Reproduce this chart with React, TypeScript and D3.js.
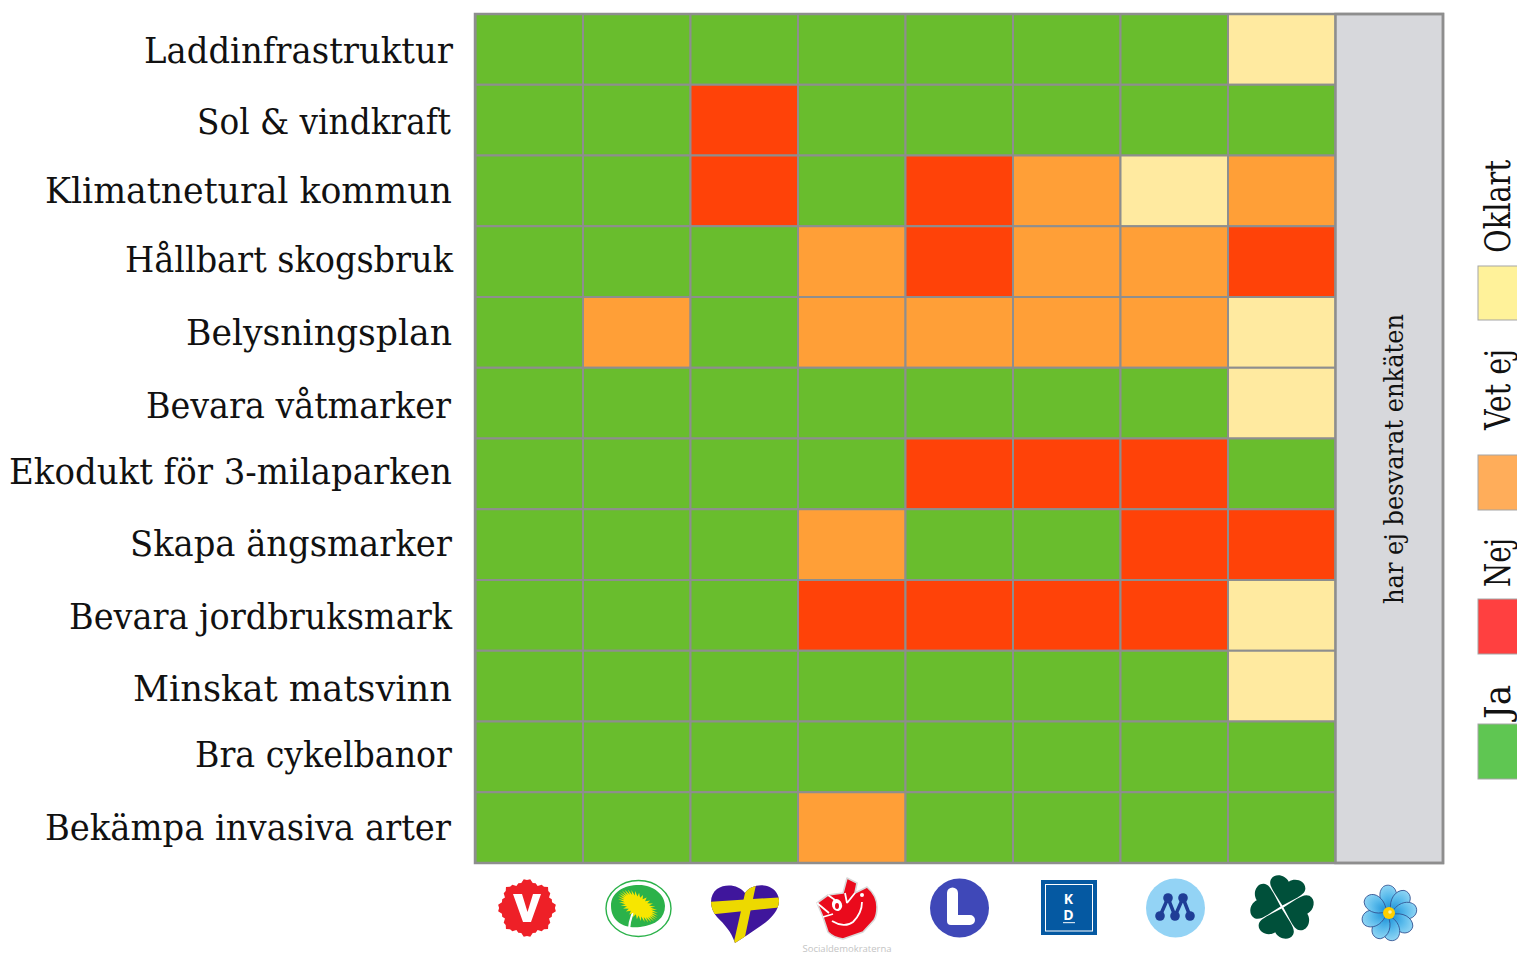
import React from "react";
import * as d3 from "d3";

const questions = ["Laddinfrastruktur","Sol & vindkraft","Klimatnetural kommun","Hållbart skogsbruk","Belysningsplan","Bevara våtmarker","Ekodukt för 3-milaparken","Skapa ängsmarker","Bevara jordbruksmark","Minskat matsvinn","Bra cykelbanor","Bekämpa invasiva arter"];
const parties = ["V","MP","KrF","S","L","KD","M","C","SD"];
// J = Ja, N = Nej, V = Vet ej, O = Oklart
const answers = [
  "JJJJJJJO","JJNJJJJJ","JJNJNVOV","JJJVNVVN","JVJVVVVO","JJJJJJJO",
  "JJJJNNNJ","JJJVJJNN","JJJNNNNO","JJJJJJJO","JJJJJJJJ","JJJVJJJJ",
];
const noAnswerLabel = "har ej besvarat enkäten";
const legendKeys = ["Oklart","Vet ej","Nej","Ja"];

const cellColor: Record<string,string> = { J:"#69bd2d", N:"#ff4208", V:"#ff9f37", O:"#ffeaa0" };
const legendColor: Record<string,string> = { Oklart:"#fff29a", "Vet ej":"#ffad5a", Nej:"#ff4040", Ja:"#5fc652" };
const labelBaselines = [63,134,203,272,345,418,484,556,629,701,767,840];
const labelStarts = [144,197,45,125,186,146,9,130,69,133,195,45];
const labelEnds = [453,451,452,453,452,451,452,452,452,452,452,451];
const legendLayout: Record<string,{top:number,bottom:number,textStart:number,textEnd:number}> = {
  Oklart:{top:266,bottom:320,textStart:253,textEnd:160},
  "Vet ej":{top:455,bottom:510,textStart:430,textEnd:349},
  Nej:{top:599,bottom:654,textStart:587,textEnd:538},
  Ja:{top:724,bottom:779,textStart:719,textEnd:685},
};
const SERIF = "'DejaVu Serif Condensed','DejaVu Serif',serif";

const x = d3.scaleBand<string>().domain(parties).range([475.5,1443]);
const y = d3.scaleBand<string>().domain(questions).range([14,863]);

const scallop = (cx:number,cy:number,r:number,amp:number,n:number) => {
  const pts:[number,number][] = [];
  for(let i=0;i<n;i++){
    const a = i/n*Math.PI*2;
    const big = Math.cos(a*8)*amp*0.7;
    const rr = r + big + (i%2?amp*0.35:-amp*0.35);
    pts.push([cx+Math.cos(a)*rr, cy+Math.sin(a)*rr]);
  }
  return d3.line().curve(d3.curveLinearClosed)(pts)!;
};
const dandelion = () => {
  const pts:[number,number][] = [];
  const n=64;
  for(let i=0;i<n;i++){
    const a=i/n*Math.PI*2;
    const k=i%2?1:0.68;
    pts.push([Math.cos(a)*23*k, Math.sin(a)*12*k]);
  }
  return d3.line().curve(d3.curveLinearClosed)(pts)!;
};
const HEART_LEAF = "M0,0 L-13,-12 C-18,-17 -22,-21 -21,-26 C-19,-35 -6,-36 0,-29 C6,-36 19,-35 21,-26 C22,-21 18,-17 13,-12 Z";
const PETAL = "M0,-3 C-9,-10 -10,-22 -3,-27 C3,-30 10,-25 9,-17 C8,-10 4,-6 0,-3 Z";

function Logos(){
  return <g>
    {/* V */}
    <path d={scallop(527,908,27,2.6,56)} fill="#ee2027"/>
    <path d="M513,894 L522,894 L527.5,912 L533,894 L541,894 L531,922 L523,922 Z" fill="#fff"/>
    {/* MP */}
    <ellipse cx={638.5} cy={908.5} rx={32.5} ry={28} fill="#fff" stroke="#2bb24a" strokeWidth={1.4}/>
    <path d="M611,906 C611,892 624,885 639,885 C654,885 665,895 665,906 C665,918 656,925 640,927 C625,929 611,922 611,906Z" fill="#2bb24a"/>
    <path d="M629,929 C630,918 632,912 637,908" fill="none" stroke="#fff" strokeWidth={2.2}/>
    <g transform="translate(638,906) rotate(35)"><path d={dandelion()} fill="#f7e600"/></g>
    {/* KrF */}
    <defs>
      <clipPath id="heartClip"><path d="M745,893 C751,884 768,882 776,892 C784,903 775,916 762,925 C752,932 743,938 735,943 C731,931 724,924 717,917 C709,908 709,895 717,889 C726,883 739,885 745,893Z"/></clipPath>
      <radialGradient id="sdGrad" cx="0.5" cy="0.95" r="0.9"><stop offset="0" stopColor="#1d92d8"/><stop offset="0.6" stopColor="#5cbcec"/><stop offset="1" stopColor="#8ad2f3"/></radialGradient>
    </defs>
    <g clipPath="url(#heartClip)">
      <rect x={705} y={880} width={80} height={66} fill="#3f169c"/>
      <path d="M748,880 L757,880 L743,946 L733,946Z" fill="#edd900"/>
      <path d="M705,902 L785,897 L785,907 L705,915Z" fill="#edd900"/>
    </g>
    {/* S */}
    <path d="M817,903 L828,895 L843,893 L847,878 L857,883 L855,893 L867,887 C874,893 877,900 877,907 C877,914 876,917 874,920 L863,932 L843,939 C836,938 832,936 828,932 L823,917 Z" fill="#ea0a1c" stroke="#d8d8d8" strokeWidth={1.6} strokeLinejoin="round"/>
    <path d="M845,893 L847,903 M855,893 L847,903 M817,903 L829,913 M828,895 L835,900 M823,917 L833,914 M832,921 C840,926 848,926 853,922 C859,916 862,909 862,902" fill="none" stroke="#fff" strokeWidth={1.8}/>
    <ellipse cx={837} cy={905} rx={5} ry={6} fill="#fff" transform="rotate(-20 837 905)"/>
    <ellipse cx={837} cy={906} rx={2} ry={3} fill="#ea0a1c"/>
    <circle cx={862} cy={895} r={2} fill="#fff"/>
    <text x={847} y={952} textAnchor="middle" fontSize={9.5} fill="#c4c4c4" fontFamily="'Open Sans',sans-serif" textLength={89} lengthAdjust="spacingAndGlyphs">Socialdemokraterna</text>
    {/* L */}
    <circle cx={959.5} cy={908} r={29.5} fill="#3f48b8"/>
    <path d="M947,893 a5,5 0 0 1 11,0 L958,915 L970,915 a5,5 0 0 1 0,10 L951,925 a4,4 0 0 1 -4,-4 Z" fill="#fff"/>
    {/* KD */}
    <rect x={1041} y={880} width={56} height={55} fill="#0559a2"/>
    <rect x={1045.5} y={884.5} width={47} height={46.5} fill="none" stroke="#fff" strokeWidth={1}/>
    <text x={1068.5} y={904} textAnchor="middle" fontSize={14} fontWeight={700} fill="#fff" fontFamily="'Open Sans',sans-serif">K</text>
    <text x={1068.5} y={920} textAnchor="middle" fontSize={14} fontWeight={700} fill="#fff" fontFamily="'Open Sans',sans-serif">D</text>
    <rect x={1063} y={922} width={12} height={1.2} fill="#cfe0ee" />
    {/* M */}
    <circle cx={1175.5} cy={908} r={29.5} fill="#93d3f5"/>
    <path d="M1160,916 L1168,898 L1175,916 L1183,898 L1190,916" fill="none" stroke="#1f3d96" strokeWidth={3.5}/>
    {[[1168,898],[1183,898],[1160,916],[1175,916],[1190,916]].map(([a,b],i)=><circle key={i} cx={a} cy={b} r={4.8} fill="#1f3d96"/>)}
    {/* C */}
    <g transform="translate(1282,907)" fill="#00503a">
      {[15,105,195,285].map(r=><path key={r} d={HEART_LEAF} transform={`rotate(${r}) translate(0,-1.5) scale(0.85)`}/>)}
    </g>
    {/* SD */}
    <g transform="translate(1389,913)">
      {[-5,40,80,125,170,205,250,300].map(r=><path key={r} d={PETAL} transform={`rotate(${r})`} fill="url(#sdGrad)" stroke="#2f4f8f" strokeWidth={0.8}/>)}
      <circle r={6} fill="#ffcf00"/>
      <circle cx={1} cy={-1} r={1.8} fill="#fff3a0"/>
    </g>
  </g>;
}

export default function App(){
  const stroke = "#8e8e8e";
  const cols = parties.slice(0,8);
  const lastCol = parties[8];
  return <svg width={1517} height={954} style={{position:"absolute",left:0,top:0,display:"block"}}>
    <rect width={1517} height={954} fill="#fff"/>
    {questions.map((q,r)=>{
      const len = labelEnds[r]-labelStarts[r];
      return <text key={q} x={labelStarts[r]} y={labelBaselines[r]} fontFamily={SERIF} fontSize={35} fill="#111" textLength={len} lengthAdjust="spacingAndGlyphs">{q}</text>;
    })}
    {questions.map((q,r)=>cols.map((p,c)=>
      <rect key={q+p} x={x(p)} y={y(q)} width={x.bandwidth()} height={y.bandwidth()} fill={cellColor[answers[r][c]]} stroke={stroke} strokeWidth={2}/>
    ))}
    <rect x={x(lastCol)} y={14} width={x.bandwidth()} height={849} fill="#d7d8dc" stroke={stroke} strokeWidth={2.5}/>
    <rect x={475} y={14} width={968} height={849} fill="none" stroke={stroke} strokeWidth={2.5}/>
    <text transform="translate(1403,604) rotate(-90)" fontFamily={SERIF} fontSize={26} fill="#111" textLength={290} lengthAdjust="spacingAndGlyphs">{noAnswerLabel}</text>
    {legendKeys.map(k=>{
      const l = legendLayout[k];
      return <g key={k}>
        <rect x={1478} y={l.top} width={60} height={l.bottom-l.top} fill={legendColor[k]} stroke="#a5a5a5" strokeWidth={1}/>
        <text transform={`translate(1510,${l.textStart}) rotate(-90)`} fontFamily={SERIF} fontSize={35} fill="#111" textLength={l.textStart-l.textEnd} lengthAdjust="spacingAndGlyphs">{k}</text>
      </g>;
    })}
    <Logos/>
  </svg>;
}
